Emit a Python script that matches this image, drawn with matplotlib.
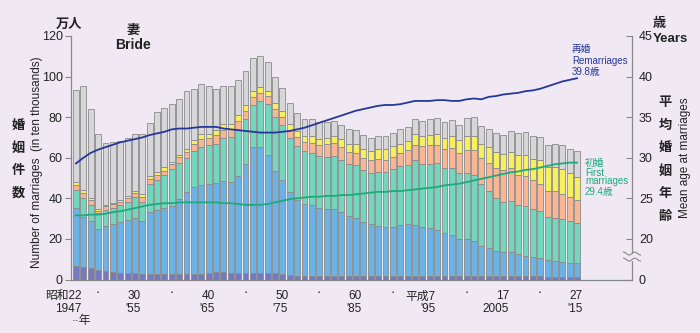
import matplotlib
matplotlib.use("Agg")
import matplotlib.pyplot as plt
import numpy as np

plt.rcParams['font.family'] = ['Liberation Sans', 'Noto Sans CJK JP', 'DejaVu Sans']

years = list(range(1947, 2016))

# bride's age groups (marriages, 10 thousands), stacked bottom -> top
age_under20 = [6.6, 6.3, 5.8, 4.7, 4.2, 3.5, 3.0, 3.0, 3.0, 2.6, 2.6, 2.6, 2.6, 2.7, 2.7, 2.7, 2.6, 2.8, 3.2, 3.5,
               3.5, 3.4, 3.4, 3.4, 3.4, 3.4, 3.3, 3.0, 2.5, 2.0, 1.8, 1.7, 1.7, 1.7, 1.7, 1.8, 1.9, 1.9, 1.9, 1.9,
               1.8, 1.7, 1.7, 1.7, 1.7, 1.7, 1.7, 1.7, 1.7, 1.7, 1.7, 1.7, 1.7, 1.8, 1.8, 1.7, 1.7, 1.7, 1.6, 1.6,
               1.6, 1.6, 1.5, 1.5, 1.4, 1.4, 1.3, 1.3, 1.3]
age_20_24 = [28.5, 24.7, 23.2, 20.1, 22.2, 23.7, 25.5, 26.4, 27.2, 26.0, 30.9, 31.6, 32.7, 33.4, 37.1, 40.4, 43.2, 43.8, 43.8, 44.0,
             44.8, 44.6, 47.7, 53.6, 61.9, 61.9, 58.2, 50.6, 46.3, 40.9, 37.5, 35.6, 34.8, 33.4, 33.0, 32.9, 31.6, 29.5, 28.3, 26.3,
             25.4, 24.9, 24.4, 24.1, 25.2, 25.5, 25.3, 24.4, 23.6, 22.7, 21.1, 20.3, 18.3, 18.0, 17.2, 15.0, 13.7, 12.4, 11.8, 12.1,
             11.0, 10.0, 9.5, 9.0, 8.2, 7.9, 7.5, 7.0, 6.7]
age_25_29 = [9.1, 9.1, 7.5, 7.9, 7.9, 7.9, 8.0, 9.0, 10.4, 9.8, 13.7, 14.9, 16.0, 18.4, 17.4, 16.7, 17.3, 18.7, 19.2, 19.2,
             21.4, 22.1, 22.7, 22.3, 20.7, 22.5, 25.0, 26.3, 27.5, 26.8, 26.6, 26.2, 25.8, 25.6, 25.6, 26.0, 25.5, 25.6, 26.3, 25.9,
             25.2, 26.6, 26.8, 28.6, 28.8, 29.3, 31.8, 30.9, 31.7, 33.0, 32.1, 32.9, 32.4, 32.6, 32.3, 30.5, 28.3, 26.3, 25.0, 25.1,
             24.2, 24.4, 23.7, 23.5, 21.4, 21.2, 20.9, 20.3, 19.7]
age_30_34 = [2.5, 2.4, 2.5, 1.3, 1.7, 2.0, 1.9, 1.7, 1.9, 2.2, 2.4, 2.5, 2.4, 2.3, 3.1, 2.8, 3.6, 3.9, 3.5, 4.3,
             4.1, 4.1, 4.5, 3.9, 3.8, 4.2, 4.1, 4.1, 3.8, 4.1, 4.3, 4.2, 4.9, 5.7, 6.5, 6.5, 6.3, 5.8, 5.8, 5.7,
             6.3, 6.1, 6.1, 5.9, 6.6, 7.1, 7.6, 8.9, 9.2, 9.0, 9.4, 9.9, 9.9, 11.6, 12.7, 12.6, 13.7, 14.5, 15.7, 16.1,
             14.8, 15.1, 14.4, 13.2, 12.4, 12.9, 12.5, 12.3, 11.6]
age_35_39 = [1.4, 1.4, 1.4, 0.6, 0.8, 0.8, 0.9, 1.1, 1.2, 1.4, 1.5, 1.3, 1.6, 1.2, 1.3, 1.7, 2.2, 2.5, 2.0, 2.5,
             2.8, 2.4, 2.6, 2.6, 3.0, 2.7, 2.5, 3.0, 3.1, 3.0, 2.8, 3.2, 3.3, 3.0, 3.0, 3.3, 4.1, 4.1, 4.4, 4.6,
             4.8, 5.0, 5.3, 5.3, 4.6, 4.8, 5.2, 5.0, 5.2, 5.5, 5.4, 6.1, 6.3, 6.9, 6.9, 7.1, 7.7, 7.7, 7.7, 7.9,
             9.6, 10.4, 10.4, 11.8, 11.8, 12.0, 12.4, 11.5, 11.0]
age_other = [45.3, 51.5, 43.8, 36.9, 30.4, 29.8, 28.9, 28.6, 27.8, 29.6, 26.2, 29.8, 29.4, 28.6, 27.4, 28.5, 24.9, 24.6, 23.8, 20.5,
             18.7, 19.0, 17.5, 17.1, 16.3, 15.3, 14.1, 13.0, 11.0, 10.4, 9.1, 8.4, 8.4, 8.1, 7.9, 7.6, 6.9, 7.1, 6.9, 6.7,
             6.1, 6.5, 6.5, 6.6, 7.3, 7.0, 7.7, 7.4, 7.8, 7.6, 7.9, 7.6, 7.6, 8.9, 9.1, 8.8, 8.9, 9.4, 9.6, 10.3,
             10.8, 11.1, 11.3, 11.0, 11.0, 11.5, 11.5, 12.0, 13.2]

# mean age at marriage (bride)
age_remarriage = [29.3, 30.0, 30.6, 31.0, 31.3, 31.6, 31.9, 32.1, 32.3, 32.5, 32.8, 33.0, 33.2, 33.5, 33.6, 33.6, 33.7, 33.8, 33.8, 33.8,
                  33.6, 33.5, 33.4, 33.3, 33.2, 33.1, 33.1, 33.1, 33.2, 33.3, 33.5, 33.7, 34.0, 34.3, 34.6, 34.9, 35.2, 35.5, 35.8, 36.0,
                  36.2, 36.4, 36.5, 36.5, 36.6, 36.8, 37.0, 37.0, 37.0, 37.1, 37.1, 37.0, 37.0, 37.2, 37.3, 37.2, 37.5, 37.6, 37.8, 37.9,
                  38.0, 38.2, 38.3, 38.5, 38.8, 39.1, 39.4, 39.6, 39.8]
age_first = [22.9, 22.9, 23.0, 23.0, 23.1, 23.3, 23.4, 23.6, 23.8, 24.0, 24.2, 24.3, 24.4, 24.4, 24.5, 24.5, 24.5, 24.5, 24.5, 24.5,
             24.4, 24.4, 24.3, 24.2, 24.2, 24.2, 24.3, 24.5, 24.7, 24.9, 25.0, 25.1, 25.2, 25.2, 25.3, 25.3, 25.4, 25.4, 25.5, 25.6,
             25.7, 25.8, 25.8, 25.9, 25.9, 26.0, 26.1, 26.2, 26.3, 26.4, 26.6, 26.7, 26.8, 27.0, 27.2, 27.4, 27.6, 27.8, 28.0, 28.2,
             28.3, 28.5, 28.6, 28.8, 29.0, 29.2, 29.3, 29.4, 29.4]

tick_years = [1947, 1955, 1965, 1975, 1985, 1995, 2005, 2015]
tick_labels = ["昭和22\n1947", "30\n'55", "40\n'65", "50\n'75", "60\n'85", "平成7\n'95", "17\n2005", "27\n'15"]
dot_years = [1950, 1960, 1970, 1980, 1990, 2000, 2010]

series = [age_under20, age_20_24, age_25_29, age_30_34, age_35_39, age_other]
colors = ['#7479C0', '#6BB3E5', '#72D7BD', '#FAB592', '#F8EF5E', '#D7D7DA']

bg = '#F0E9F4'
txt = '#222222'
W, H = 700, 333
fig = plt.figure(figsize=(7, 3.33), dpi=100, facecolor=bg)
ax = fig.add_axes([71 / W, 53.5 / H, (632 - 71) / W, (279.5 - 36) / H], facecolor=bg)

bottom = np.zeros(len(years))
for vals, c in zip(series, colors):
    ax.bar(years, vals, bottom=bottom, width=0.8, color=c, edgecolor='#8A8A8A', linewidth=0.6, zorder=2)
    bottom += np.array(vals)

ax.set_xlim(1946.32, 2022.45)
ax.set_ylim(0, 120)
ax.set_yticks([0, 20, 40, 60, 80, 100, 120])
ax.tick_params(axis='y', direction='out', length=4, width=0.8, color='#888888', labelsize=9, labelcolor=txt, pad=2)
ax.set_xticks([])
for s in ['top', 'right']:
    ax.spines[s].set_visible(False)
for s in ['left', 'bottom']:
    ax.spines[s].set_color('#888888')
    ax.spines[s].set_linewidth(0.9)

# x labels
tr = ax.get_xaxis_transform()
for yr, lab in zip(tick_years, tick_labels):
    ax.text(yr + 0.8, -0.045, lab, transform=tr, ha='right', va='top', multialignment='right',
            fontsize=8.5, color=txt, linespacing=1.05)
for yr in dot_years:
    ax.text(yr, -0.045, '•', transform=tr, ha='center', va='top', fontsize=4.5, color=txt)
ax.text(1949.1, -0.145, '··年', transform=tr, ha='right', va='top', fontsize=8.5, color=txt)

# right axis (mean age)
ax2 = ax.twinx()
ax2.set_ylim(15, 45)
ax2.patch.set_visible(False)
ax2.plot(years, age_remarriage, color='#26379A', linewidth=1.3, zorder=3)
ax2.plot(years, age_first, color='#1EAA7A', linewidth=1.3, zorder=3)
ax2.set_yticks([15, 20, 25, 30, 35, 40, 45])
ax2.set_yticklabels(['0', '20', '25', '30', '35', '40', '45'])
ax2.tick_params(axis='y', direction='in', length=4, width=0.8, color='#888888', labelsize=9, labelcolor=txt, pad=5)
for s in ['top', 'left', 'bottom']:
    ax2.spines[s].set_visible(False)
ax2.spines['right'].set_color('#888888')
ax2.spines['right'].set_linewidth(0.9)

# axis break on right axis
xb = 2022.45
ax2.add_patch(plt.Rectangle((xb - 0.8, 17.45), 1.6, 0.75, color=bg, zorder=5, clip_on=False))
tt = np.linspace(-1.15, 1.15, 30)
for yb in (17.45, 18.2):
    ax2.plot(xb + tt, yb + 0.18 * np.sin(tt * np.pi / 1.15 * 1.5), color='#888888', linewidth=0.8,
             zorder=6, clip_on=False)

# labels on the lines
blue_c, green_c = '#26379A', '#1EAA7A'
fig.text(572 / W, 1 - 49 / H, '再婚', fontsize=7, color=blue_c, va='center', ha='left')
fig.text(572 / W, 1 - 60.5 / H, 'Remarriages', fontsize=7, color=blue_c, va='center', ha='left')
fig.text(572 / W, 1 - 71.5 / H, '39.8歳', fontsize=7, color=blue_c, va='center', ha='left')
fig.text(585 / W, 1 - 163 / H, '初婚', fontsize=7, color=green_c, va='center', ha='left')
fig.text(585 / W, 1 - 173 / H, 'First', fontsize=7, color=green_c, va='center', ha='left')
fig.text(585 / W, 1 - 181.5 / H, 'marriages', fontsize=7, color=green_c, va='center', ha='left')
fig.text(585 / W, 1 - 192.5 / H, '29.4歳', fontsize=7, color=green_c, va='center', ha='left')

# titles / axis texts
fig.text(69 / W, 1 - 25 / H, '万人', fontsize=9.5, fontweight='bold', color=txt, ha='center', va='center')
fig.text(133 / W, 1 - 31 / H, '妻', fontsize=9.5, fontweight='bold', color=txt, ha='center', va='center')
fig.text(133 / W, 1 - 45 / H, 'Bride', fontsize=10, fontweight='bold', color=txt, ha='center', va='center')
fig.text(659 / W, 1 - 24 / H, '歳', fontsize=9.5, fontweight='bold', color=txt, ha='center', va='center')
fig.text(670 / W, 1 - 39 / H, 'Years', fontsize=9.5, fontweight='bold', color=txt, ha='center', va='center')

for i, ch in enumerate('婚姻件数'):
    fig.text(18 / W, 1 - (126 + 22.5 * i) / H, ch, fontsize=9.5, fontweight='bold', color=txt,
             ha='center', va='center')
fig.text(37 / W, 1 - 162 / H, 'Number of marriages  (in ten thousands)', rotation=90, fontsize=8.5,
         color=txt, ha='center', va='center')
for i, ch in enumerate('平均婚姻年齢'):
    fig.text(665 / W, 1 - (103 + 22.7 * i) / H, ch, fontsize=9.5, fontweight='bold', color=txt,
             ha='center', va='center')
fig.text(685 / W, 1 - 158 / H, 'Mean age at marriages', rotation=90, fontsize=8.5,
         color=txt, ha='center', va='center')

fig.savefig('out.png', dpi=100, facecolor=bg)
